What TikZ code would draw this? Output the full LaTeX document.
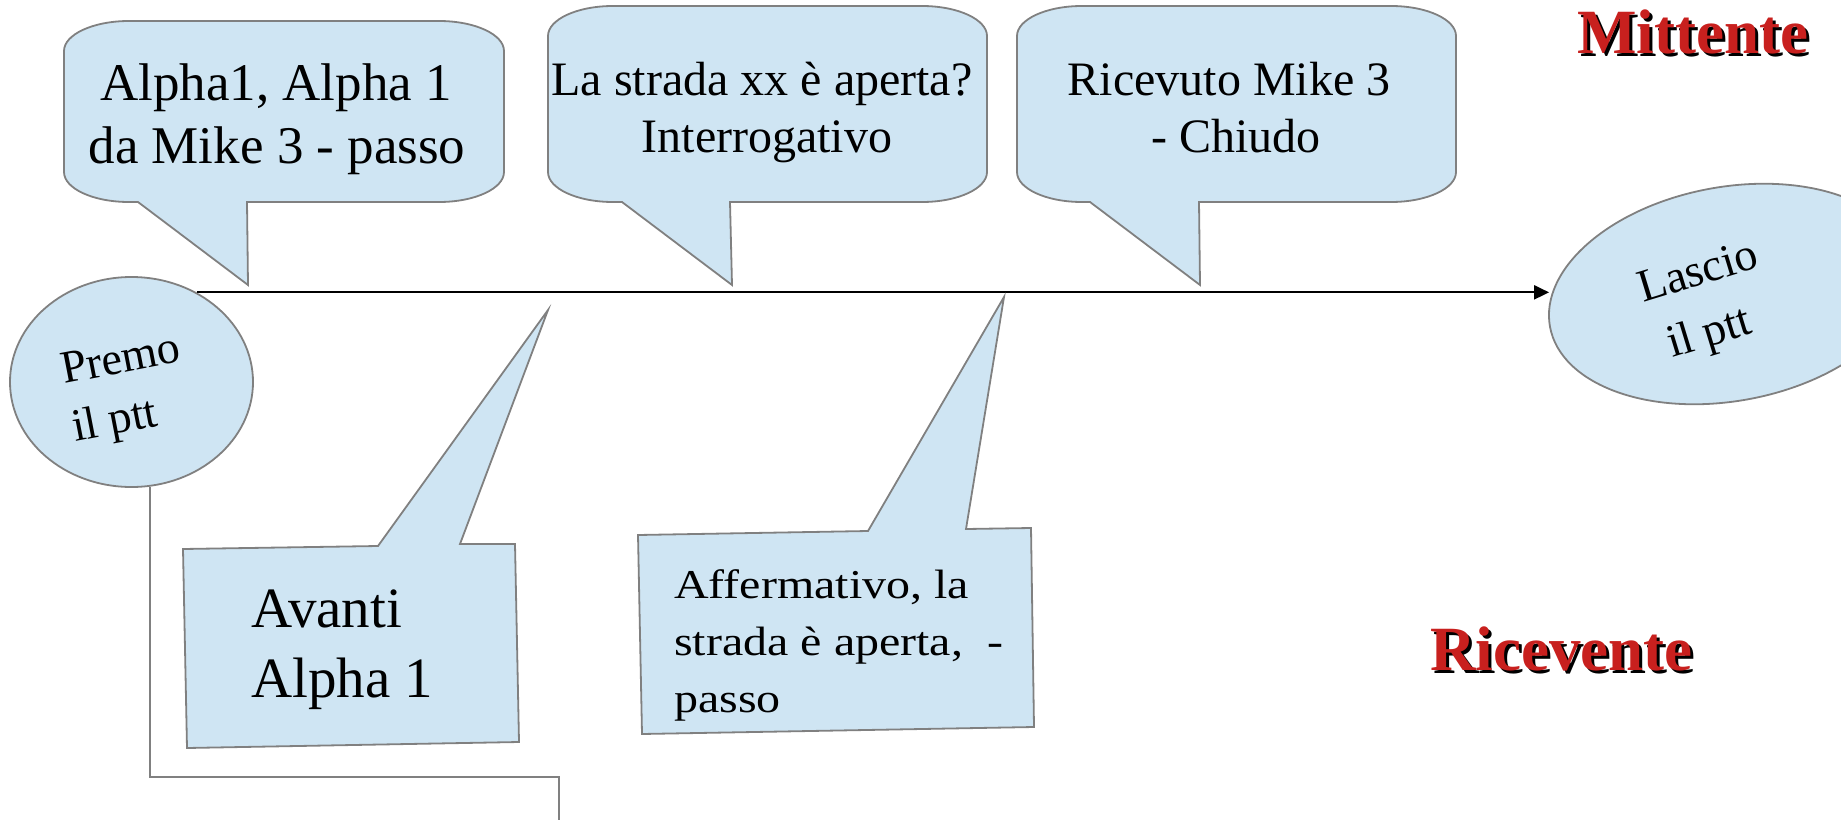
\documentclass[tikz,border=0pt]{standalone}
\usepackage{fontspec}
\setmainfont{Liberation Serif}
\newfontfamily\widefont[FakeStretch=1.17]{Liberation Serif}
\usetikzlibrary{arrows.meta,shapes.geometric}
\definecolor{bubblefill}{HTML}{CFE5F3}
\definecolor{bubbleline}{HTML}{808080}
\definecolor{titlered}{HTML}{C8201E}
\tikzset{
  bubble/.style={fill=bubblefill, draw=bubbleline, line width=1.8pt, line join=miter},
  txt/.style={inner sep=0pt, text=black},
  bigtxt/.style={txt, font=\fontsize{53}{60}\selectfont},
  midtxt/.style={txt, font=\fontsize{48}{55}\selectfont},
  avtxt/.style={txt, font=\fontsize{57}{64}\selectfont},
  afftxt/.style={txt, font=\widefont\fontsize{41}{48}\selectfont},
  ptttxt/.style={txt, font=\fontsize{46}{52}\selectfont},
  titletxt/.style={inner sep=0pt, font=\bfseries\fontsize{63}{68}\selectfont},
  flow/.style={draw=black, line width=2pt, -{Triangle[length=15pt,width=14pt]}},
  connector/.style={draw=bubbleline, line width=2pt}
}
% #1 left, #2 top, #3 right, #4 bottom, #5 tail left x, #6 tip x, #7 tip y, #8 tail right x
\newcommand\roundcallout[8]{%
  \draw[bubble] ({#1+65},#2) -- ({#3-65},#2)
    .. controls ({#3-29.1},#2) and (#3,{#2+13.43}) .. (#3,{#2+30})
    -- (#3,{#4-30})
    .. controls (#3,{#4-13.43}) and ({#3-29.1},#4) .. ({#3-65},#4)
    -- (#8,#4) -- (#6,#7) -- (#5,#4) -- ({#1+65},#4)
    .. controls ({#1+29.1},#4) and (#1,{#4-13.43}) .. (#1,{#4-30})
    -- (#1,{#2+30})
    .. controls (#1,{#2+13.43}) and ({#1+29.1},#2) .. ({#1+65},#2) -- cycle;}
\begin{document}
\begin{tikzpicture}[x=1pt,y=-1pt]
\useasboundingbox (0,0) rectangle (1841,819);
\clip (0,0) rectangle (1841,819);

% top callouts
\roundcallout{64}{21}{504}{202}{138}{248}{285}{247}
\roundcallout{548}{6}{987}{202}{622}{732}{285}{730}
\roundcallout{1017}{6}{1456}{202}{1090}{1200}{285}{1199}

\node[bigtxt, anchor=base] (t1a) at (276,100) {Alpha1, Alpha 1};
\node[bigtxt, anchor=base] (t1b) at (277,163) {da Mike 3 - passo};
\node[midtxt, anchor=base] (t2a) at (762,95) {La strada xx è aperta?};
\node[midtxt, anchor=base] (t2b) at (767,152) {Interrogativo};
\node[midtxt, anchor=base] (t3a) at (1229,95) {Ricevuto Mike 3};
\node[midtxt, anchor=base] (t3b) at (1236,152) {- Chiudo};

% ellipses
\node[ellipse, bubble, minimum width=243pt, minimum height=210pt, inner sep=0pt] (premo) at (131.5,382) {};
\node[ellipse, bubble, minimum width=364pt, minimum height=214pt, inner sep=0pt, rotate=10.4] (lascio) at (1729,294) {};
\node[ptttxt, rotate=11, anchor=base west] (premo1) at (64,384) {Premo};
\node[ptttxt, rotate=11, anchor=base west] (premo2) at (75,442) {il ptt};
\node[ptttxt, rotate=17, anchor=base west] (lascio1) at (1643,303) {Lascio};
\node[ptttxt, rotate=17, anchor=base west] (lascio2) at (1672,358) {il ptt};

% main arrow
\draw[flow] (premo.54) -- (premo.54 -| lascio.west);

% bottom callouts
\draw[bubble] (183,549) -- (378,546) -- (548,310) -- (460,544) -- (515,544) -- (519,742) -- (187,748) -- cycle;
\draw[bubble] (638,535) -- (868,531) -- (1004,297) -- (966,529) -- (1031,528) -- (1034,727) -- (642,734) -- cycle;

\node[avtxt, anchor=base west] (t4a) at (251,627) {Avanti};
\node[avtxt, anchor=base west] (t4b) at (251,697) {Alpha 1};
\node[afftxt, anchor=base west] (t5a) at (674,598) {Affermativo, la};
\node[afftxt, anchor=base west] (t5b) at (674,655) {strada è aperta,\ \ -};
\node[afftxt, anchor=base west] (t5c) at (674,712) {passo};

% connector at bottom
\coordinate (c2) at (559,777);
\coordinate (c3) at (559,830);
\draw[connector] (premo.-80) |- (c2) -- (c3);

% titles
\node[titletxt, text=black, anchor=base west] (mittshadow) at (1580,56) {Mittente};
\node[titletxt, text=titlered, anchor=base west] (mitt) at (1577,53) {Mittente};
\node[titletxt, text=black, anchor=base west] (ricshadow) at (1433,673) {Ricevente};
\node[titletxt, text=titlered, anchor=base west] (ric) at (1430,670) {Ricevente};
\end{tikzpicture}
\end{document}
